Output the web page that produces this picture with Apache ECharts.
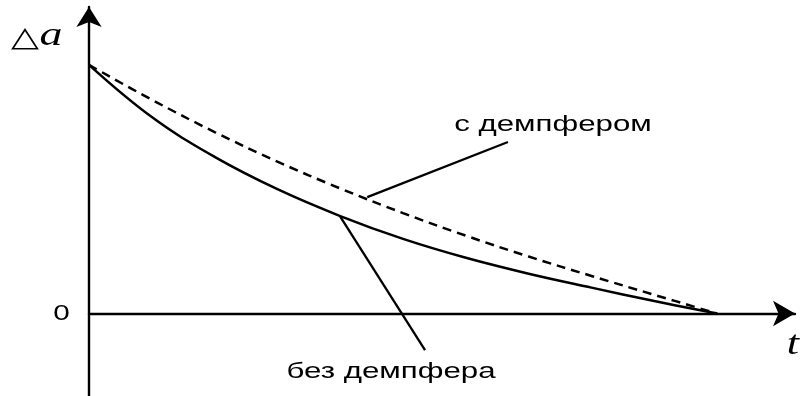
<!DOCTYPE html>
<html>
<head>
<meta charset="utf-8">
<script src="https://cdn.jsdelivr.net/npm/echarts@6/dist/echarts.min.js"></script>
<style>
html,body{margin:0;padding:0;background:#fff;}
#chart{width:800px;height:396px;}
</style>
</head>
<body>
<div id="chart"></div>
<script>
// time axis samples (arbitrary units)
const tValues = [0, 1, 2, 3, 4, 5, 6, 7, 8, 9, 10];
// без демпфера (solid)
const withoutDamper = [10, 7.9, 6.3, 5.0, 3.92, 3.0, 2.24, 1.60, 1.04, 0.50, 0];
// с демпфером (dashed)
const withDamper = [10, 8.60, 7.30, 6.11, 5.03, 4.04, 3.13, 2.29, 1.51, 0.75, 0];
// leader lines [t, value]
const leaderWith = [[4.43, 4.68], [6.67, 6.90]];
const leaderWithout = [[4.0, 3.90], [5.35, -1.47]];
// texts
const labelWith = 'с демпфером';
const labelWithout = 'без демпфера';
const yAxisName = ['△', 'a'];
const xAxisName = 't';
const zeroLabel = '0';

const chart = echarts.init(document.getElementById('chart'), null, {renderer: 'canvas'});

function pairs(xs, ys) { return xs.map((x, i) => [x, ys[i]]); }

const black = '#000';
const option = {
  animation: false,
  backgroundColor: '#fff',
  grid: {left: 89, right: 5, top: 7, bottom: 0, containLabel: false},
  xAxis: {
    type: 'value', min: 0, max: 11.24,
    axisLine: {show: true, onZero: true, symbol: ['none', 'arrow'], symbolSize: [19, 22],
      lineStyle: {color: black, width: 2.4}},
    axisTick: {show: false}, axisLabel: {show: false}, splitLine: {show: false}
  },
  yAxis: {
    type: 'value', min: -3.32, max: 12.33,
    axisLine: {show: true, onZero: true, symbol: ['none', 'arrow'], symbolSize: [19, 20],
      lineStyle: {color: black, width: 2.4}},
    axisTick: {show: false}, axisLabel: {show: false}, splitLine: {show: false}
  },
  series: [
    {type: 'line', data: pairs(tValues, withoutDamper), smooth: 0.4,
      showSymbol: false, lineStyle: {color: black, width: 2.5}, z: 3},
    {type: 'line', data: pairs(tValues, withDamper), smooth: 0.4,
      showSymbol: false, lineStyle: {color: black, width: 2.5, type: [9, 6]}, z: 3},
    {type: 'line', data: leaderWith, showSymbol: false,
      lineStyle: {color: black, width: 2.3}},
    {type: 'line', data: leaderWithout, showSymbol: false,
      lineStyle: {color: black, width: 2.3}}
  ],
  graphic: [
    {type: 'text', x: 553, y: 125, scaleX: 1.42,
      style: {text: labelWith, font: '22px "Liberation Sans", Arial, sans-serif', fill: black,
        textAlign: 'center', textVerticalAlign: 'middle'}},
    {type: 'text', x: 391, y: 372, scaleX: 1.42,
      style: {text: labelWithout, font: '22px "Liberation Sans", Arial, sans-serif', fill: black,
        textAlign: 'center', textVerticalAlign: 'middle'}},
    {type: 'text', x: 61.5, y: 314, scaleX: 1.35,
      style: {text: zeroLabel, font: '22px "Liberation Sans", Arial, sans-serif', fill: black,
        textAlign: 'center', textVerticalAlign: 'middle'}},
    {type: 'text', x: 25, y: 39, scaleX: 1.3,
      style: {text: yAxisName[0], font: '28px "DejaVu Sans", sans-serif', fill: black,
        textAlign: 'center', textVerticalAlign: 'middle'}},
    {type: 'text', x: 51, y: 36, scaleX: 1.35,
      style: {text: yAxisName[1], font: 'italic 34px "Liberation Serif", serif', fill: black,
        textAlign: 'center', textVerticalAlign: 'middle'}},
    {type: 'text', x: 793, y: 345, scaleX: 1.3,
      style: {text: xAxisName, font: 'italic 34px "Liberation Serif", serif', fill: black,
        textAlign: 'center', textVerticalAlign: 'middle'}}
  ]
};
chart.setOption(option);
</script>
</body>
</html>
